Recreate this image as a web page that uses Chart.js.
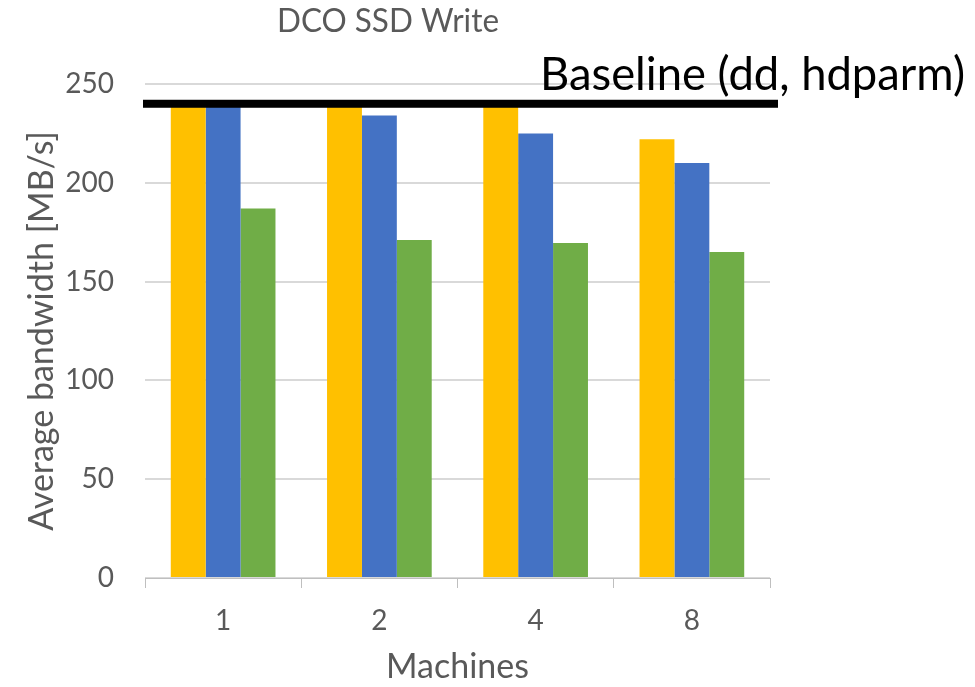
<!DOCTYPE html>
<html><head><meta charset="utf-8">
<script src="https://cdn.jsdelivr.net/npm/chart.js@4/dist/chart.umd.min.js"></script>
<style>html,body{margin:0;padding:0;background:#fff}#wrap{width:975px;height:687px}</style>
</head><body><div id="wrap"><canvas id="c" width="975" height="687"></canvas></div>
<script>
const categories = ['1', '2', '4', '8'];
const seriesA = [240, 240, 240, 222];
const seriesB = [240, 234, 225, 210];
const seriesC = [187, 171, 169.5, 165];
const baselineValue = 240;
const baselineLabel = 'Baseline (dd, hdparm)';
const titleText = 'DCO SSD Write';
const yTitle = 'Average bandwidth [MB/s]';
const xTitle = 'Machines';

const FONT = 'Lato, sans-serif';
const GREY = '#595959';

const overlay = {
  id: 'overlay',
  afterDatasetsDraw(chart) {
    const ctx = chart.ctx, a = chart.chartArea, y = chart.scales.y.getPixelForValue(baselineValue);
    ctx.save();
    ctx.fillStyle = '#000';
    ctx.fillRect(a.left - 2, y - 4, a.right - a.left + 10, 8);
    ctx.font = '46px ' + FONT;
    ctx.textBaseline = 'alphabetic';
    ctx.textAlign = 'left';
    ctx.fillText(baselineLabel, 540, 90, 425);
    ctx.fillStyle = GREY;
    ctx.font = '32px ' + FONT;
    ctx.textAlign = 'center';
    ctx.textBaseline = 'middle';
    ctx.fillText(titleText, 388, 22, 222);
    ctx.restore();
  }
};

new Chart(document.getElementById('c'), {
  type: 'bar',
  data: {
    labels: categories,
    datasets: [
      { data: seriesA, backgroundColor: '#FFC000' },
      { data: seriesB, backgroundColor: '#4472C4' },
      { data: seriesC, backgroundColor: '#70AD47' }
    ]
  },
  options: {
    responsive: false,
    animation: false,
    devicePixelRatio: 1,
    layout: { padding: { top: 84, right: 205, bottom: 0, left: 0 } },
    plugins: { legend: { display: false }, title: { display: false }, tooltip: { enabled: false } },
    datasets: { bar: { categoryPercentage: 0.67, barPercentage: 1.0 } },
    scales: {
      x: {
        grid: { offset: true, drawOnChartArea: false, drawTicks: true, tickLength: 10, color: '#BFBFBF', lineWidth: 1 },
        border: { display: true, color: '#BFBFBF' },
        ticks: { color: GREY, font: { family: FONT, size: 28 }, padding: 16 },
        title: { display: true, text: xTitle, color: GREY, font: { family: FONT, size: 34 }, padding: { top: 12, bottom: 0 } },
        afterFit(s) { s.height = 109; }
      },
      y: {
        min: 0, max: 250,
        ticks: { stepSize: 50, color: GREY, font: { family: FONT, size: 28 }, padding: 31 },
        grid: { color: '#D9D9D9', lineWidth: 2, drawTicks: false },
        border: { display: false },
        title: { display: true, text: yTitle, color: GREY, font: { family: FONT, size: 34 }, padding: { top: 22, bottom: 0 } },
        afterFit(s) { s.width = 145; }
      }
    }
  },
  plugins: [overlay]
});
</script></body></html>
